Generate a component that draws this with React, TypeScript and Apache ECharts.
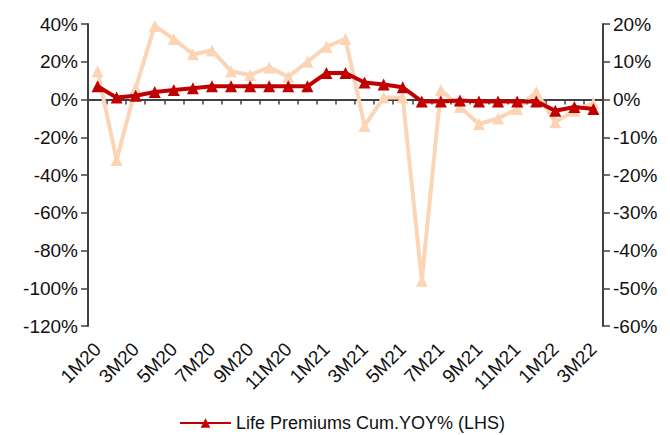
import React, { useEffect, useRef } from "react";
import * as echarts from "echarts";

const categories = [
  "1M20", "2M20", "3M20", "4M20", "5M20", "6M20", "7M20", "8M20", "9M20", "10M20", "11M20", "12M20",
  "1M21", "2M21", "3M21", "4M21", "5M21", "6M21", "7M21", "8M21", "9M21", "10M21", "11M21", "12M21",
  "1M22", "2M22", "3M22",
];
// Life Premiums Cum. YoY % (LHS)
const lifeCumYoy = [7, 1, 2, 4, 5, 6, 7, 7, 7, 7, 7, 7, 14, 14, 9, 8, 6.5, -1, -1, -0.5, -1, -1, -1, -1, -6, -4, -5];
// Monthly YoY % (RHS)
const monthlyYoy = [7.5, -16, 3, 19.5, 16, 12, 13, 7.5, 6.5, 8.5, 6, 10, 14, 16, -7, 0.5, 0.5, -48, 2.5, -2, -6.5, -5, -2.5, 2, -6, -3, -1];

const leftTicks = { min: -120, max: 40, interval: 20 };
const rightTicks = { min: -60, max: 20, interval: 10 };

const AXIS = "#404040";
const FONT = "Liberation Sans, Arial, sans-serif";

export default function App() {
  const ref = useRef<HTMLDivElement>(null);
  useEffect(() => {
    if (!ref.current) return;
    const chart = echarts.init(ref.current, undefined, { renderer: "svg" });
    const labelStyle = { color: "#111", fontSize: 19, fontFamily: FONT };
    chart.setOption({
      animation: false,
      grid: { left: 88, right: 67, top: 24, bottom: 109, containLabel: false },
      legend: {
        data: [{ name: "Life Premiums Cum.YOY% (LHS)" }],
        left: 179,
        top: 414,
        padding: 0,
        itemWidth: 51,
        itemHeight: 12,
        itemGap: 10,
        textStyle: { color: "#111", fontSize: 18, lineHeight: 18, fontFamily: FONT },
      },
      xAxis: [
        {
          type: "category",
          data: categories,
          boundaryGap: true,
          position: "bottom",
          axisLine: { show: false, onZero: false },
          axisTick: { show: false },
          axisLabel: { ...labelStyle, rotate: 45, interval: 1, margin: 20 },
        },
        {
          type: "category",
          data: categories,
          boundaryGap: true,
          position: "bottom",
          axisLine: { show: true, onZero: true, onZeroAxisIndex: 0, lineStyle: { color: AXIS, width: 2 } },
          axisTick: { show: true, inside: false, length: 5, interval: 0, lineStyle: { color: AXIS, width: 1.5 } },
          axisLabel: { show: false },
        },
      ],
      yAxis: [
        {
          type: "value",
          position: "left",
          ...leftTicks,
          splitLine: { show: false },
          axisLine: { show: true, lineStyle: { color: AXIS, width: 2 } },
          axisTick: { show: true, length: 7, lineStyle: { color: AXIS, width: 1.5 } },
          axisLabel: { ...labelStyle, margin: 10, formatter: (v: number) => `${v}%` },
        },
        {
          type: "value",
          position: "right",
          ...rightTicks,
          splitLine: { show: false },
          axisLine: { show: true, lineStyle: { color: AXIS, width: 2 } },
          axisTick: { show: true, length: 7, lineStyle: { color: AXIS, width: 1.5 } },
          axisLabel: { ...labelStyle, margin: 10, formatter: (v: number) => `${v}%` },
        },
      ],
      series: [
        {
          name: "Monthly YOY% (RHS)",
          type: "line",
          xAxisIndex: 0,
          yAxisIndex: 1,
          data: monthlyYoy,
          symbol: "triangle",
          symbolSize: 12,
          lineStyle: { color: "#FBD5B5", width: 4 },
          itemStyle: { color: "#FBD5B5" },
          z: 2,
        },
        {
          name: "Life Premiums Cum.YOY% (LHS)",
          type: "line",
          xAxisIndex: 0,
          yAxisIndex: 0,
          data: lifeCumYoy,
          symbol: "triangle",
          symbolSize: 12,
          lineStyle: { color: "#C00000", width: 4 },
          itemStyle: { color: "#C00000" },
          z: 3,
        },
      ],
    });
    return () => chart.dispose();
  }, []);
  return (
    <div
      ref={ref}
      style={{ position: "fixed", left: 0, top: 0, width: 670, height: 435, background: "#fff" }}
    />
  );
}
